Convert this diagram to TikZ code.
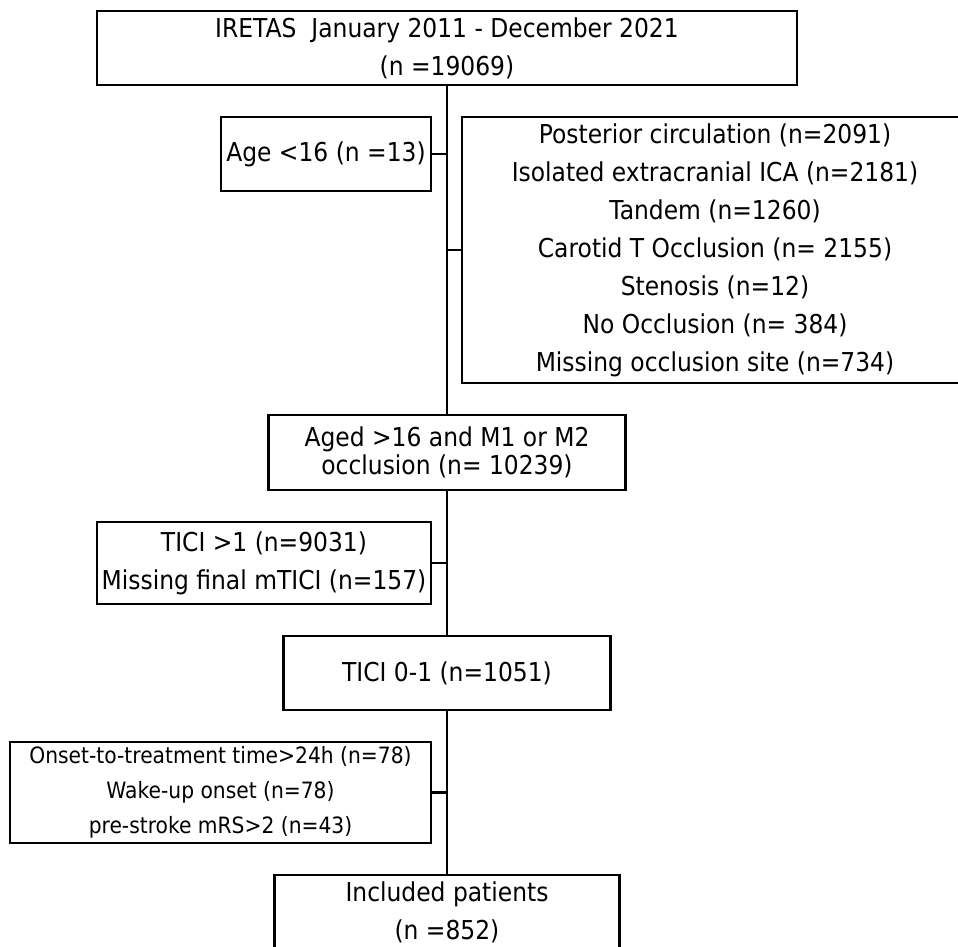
\documentclass[tikz,border=0pt]{standalone}
\usepackage{fontspec}
\setmainfont{DejaVu Sans}[FakeStretch=0.9]
\usepackage{tikz}

\begin{document}
\begin{tikzpicture}[x=1pt,y=-1pt,
    box/.style={draw, line width=2.3pt, align=center, inner sep=0pt,
      font=\fontsize{26}{38}\selectfont},
    spine/.style={line width=2.8pt}]
  \useasboundingbox (0,0) rectangle (958,946);
  \node[box, minimum width=700, minimum height=74] (src) at (447,48)
    {IRETAS\ \ January 2011 - December 2021\\(n =19069)};
  \node[box, minimum width=210, minimum height=74] (age) at (326,154)
    {Age <16 (n =13)};
  \node[box, minimum width=506, minimum height=266] (site) at (715,250)
    {Posterior circulation (n=2091)\\Isolated extracranial ICA (n=2181)\\
     Tandem (n=1260)\\Carotid T Occlusion (n= 2155)\\Stenosis (n=12)\\
     No Occlusion (n= 384)\\Missing occlusion site (n=734)};
  \node[box, minimum width=357, minimum height=75,
    font=\fontsize{26}{28}\selectfont] (aged) at (447,452.5)
    {Aged >16 and M1 or M2\\occlusion (n= 10239)};
  \node[box, minimum width=334, minimum height=82] (tici) at (264,563)
    {TICI >1 (n=9031)\\Missing final mTICI (n=157)};
  \node[box, minimum width=327, minimum height=74] (low) at (447,673)
    {TICI 0-1 (n=1051)};
  \node[box, minimum width=421, minimum height=101,
    font=\fontsize{22.5}{35}\selectfont] (onset) at (220.5,792.5)
    {Onset-to-treatment time>24h (n=78)\\Wake-up onset (n=78)\\
     pre-stroke mRS>2 (n=43)};
  \node[box, minimum width=345, minimum height=74] (incl) at (447,912)
    {Included patients\\(n =852)};
  \draw[spine] (src.south) -- (aged.north);
  \draw[spine] (aged.south) -- (low.north);
  \draw[spine] (low.south) -- (incl.north);
  \draw[spine] (age.east) -- (age.east -| src.south);
  \draw[spine] (site.west) -- (site.west -| src.south);
  \draw[spine] (tici.east) -- (tici.east -| aged.south);
  \draw[spine] (onset.east) -- (onset.east -| low.south);
\end{tikzpicture}
\end{document}
